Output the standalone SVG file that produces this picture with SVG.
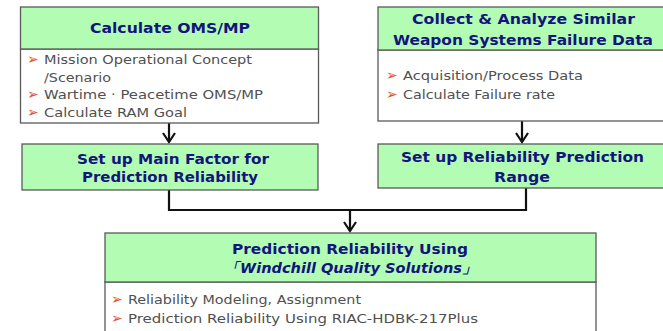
<svg xmlns="http://www.w3.org/2000/svg" width="663" height="331" viewBox="0 0 663 331">
<defs>
<style>
.hdr{fill:#b3fcb3;stroke:#5a5a5a;stroke-width:1.3}
.body{fill:#ffffff;stroke:#5a5a5a;stroke-width:1.3}
.ht{font-family:"DejaVu Sans",Verdana,sans-serif;font-weight:bold;font-size:14.5px;fill:#14147e;text-anchor:middle}
.it{font-style:italic}
.bt{font-family:"DejaVu Sans","Liberation Sans",sans-serif;font-size:12.5px;fill:#505050}
.bul{font-family:"DejaVu Sans",sans-serif;font-size:14px;fill:#e0502c}
.con{fill:none;stroke:#111;stroke-width:2.2}
</style>
<marker id="arr" viewBox="0 0 12 14" refX="10" refY="7" markerWidth="12" markerHeight="14" markerUnits="userSpaceOnUse" orient="auto">
<path d="M1,1 L10,7 L1,13" fill="none" stroke="#111" stroke-width="2.2"/>
</marker>
</defs>
<rect width="663" height="331" fill="#ffffff"/>

<g id="connectors">
<line class="con" x1="169" y1="123" x2="169" y2="142" marker-end="url(#arr)"/>
<line class="con" x1="522" y1="121" x2="522" y2="142" marker-end="url(#arr)"/>
<polyline class="con" points="169,190 169,210 526,210 526,188"/>
<line class="con" x1="350" y1="210" x2="350" y2="231" marker-end="url(#arr)"/>
</g>

<g id="calc-oms">
<rect class="body" x="20.5" y="49" width="298" height="74"/>
<rect class="hdr" x="20.5" y="7" width="298" height="42"/>
<text class="ht" x="170" y="33" textLength="160" lengthAdjust="spacingAndGlyphs">Calculate OMS/MP</text>
<text class="bul" x="27" y="64">➢</text>
<text class="bt" x="44" y="64" textLength="208" lengthAdjust="spacingAndGlyphs">Mission Operational Concept</text>
<text class="bt" x="44" y="82" textLength="67" lengthAdjust="spacingAndGlyphs">/Scenario</text>
<text class="bul" x="27" y="99">➢</text>
<text class="bt" x="44" y="99" textLength="219" lengthAdjust="spacingAndGlyphs">Wartime · Peacetime OMS/MP</text>
<text class="bul" x="27" y="117">➢</text>
<text class="bt" x="44" y="117" textLength="143" lengthAdjust="spacingAndGlyphs">Calculate RAM Goal</text>
</g>

<g id="collect-data">
<rect class="body" x="378" y="50" width="295" height="71"/>
<rect class="hdr" x="378" y="7" width="295" height="43"/>
<text class="ht" x="523.5" y="24" textLength="223" lengthAdjust="spacingAndGlyphs">Collect &amp; Analyze Similar</text>
<text class="ht" x="523" y="45" textLength="260" lengthAdjust="spacingAndGlyphs">Weapon Systems Failure Data</text>
<text class="bul" x="386" y="80">➢</text>
<text class="bt" x="403" y="80" textLength="180" lengthAdjust="spacingAndGlyphs">Acquisition/Process Data</text>
<text class="bul" x="386" y="99">➢</text>
<text class="bt" x="403" y="99" textLength="152" lengthAdjust="spacingAndGlyphs">Calculate Failure rate</text>
</g>

<g id="main-factor">
<rect class="hdr" x="22" y="144" width="296" height="46"/>
<text class="ht" x="173" y="164" textLength="192" lengthAdjust="spacingAndGlyphs">Set up Main Factor for</text>
<text class="ht" x="170" y="182" textLength="176" lengthAdjust="spacingAndGlyphs">Prediction Reliability</text>
</g>

<g id="prediction-range">
<rect class="hdr" x="378" y="144" width="295" height="44"/>
<text class="ht" x="522.5" y="162" textLength="243" lengthAdjust="spacingAndGlyphs">Set up Reliability Prediction</text>
<text class="ht" x="522" y="182" textLength="56" lengthAdjust="spacingAndGlyphs">Range</text>
</g>

<g id="prediction-windchill">
<rect class="body" x="105" y="282" width="491" height="60"/>
<rect class="hdr" x="105" y="233" width="491" height="49"/>
<text class="ht" x="350" y="254" textLength="236" lengthAdjust="spacingAndGlyphs">Prediction Reliability Using</text>
<text class="ht it" x="351" y="273" textLength="252" lengthAdjust="spacingAndGlyphs">「Windchill Quality Solutions」</text>
<text class="bul" x="111" y="304">➢</text>
<text class="bt" x="128" y="304" textLength="233" lengthAdjust="spacingAndGlyphs">Reliability Modeling, Assignment</text>
<text class="bul" x="111" y="323">➢</text>
<text class="bt" x="128" y="323" textLength="350" lengthAdjust="spacingAndGlyphs">Prediction Reliability Using RIAC-HDBK-217Plus</text>
</g>
</svg>
